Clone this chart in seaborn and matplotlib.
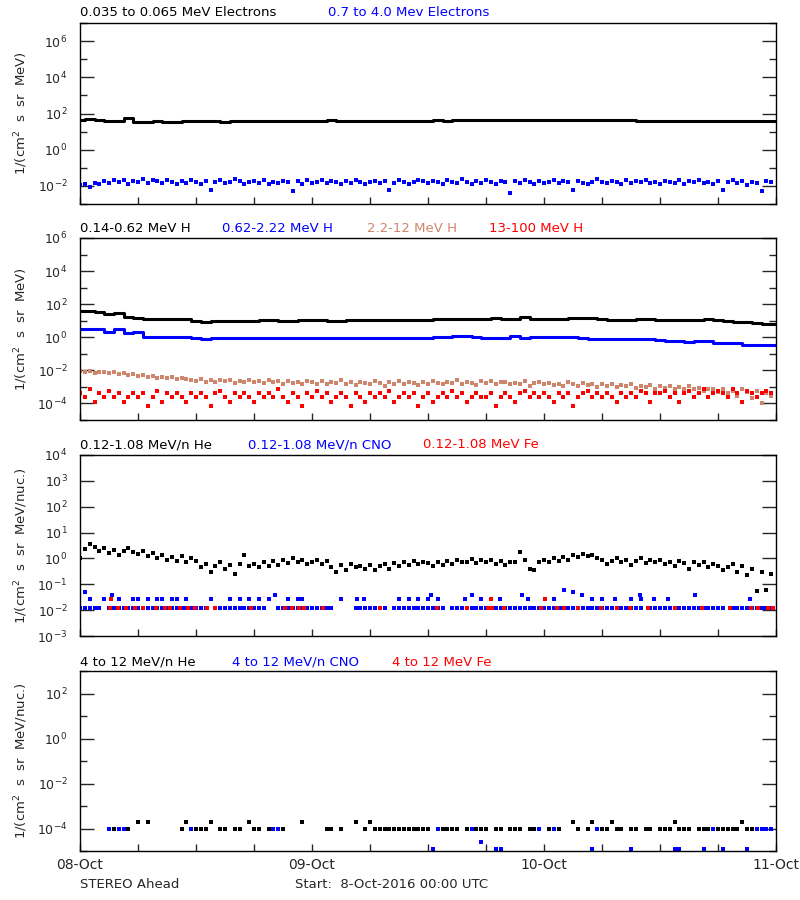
import numpy as np
import matplotlib
matplotlib.use('Agg')
import matplotlib.pyplot as plt
import matplotlib.ticker as ticker
import seaborn as sns

# STEREO Ahead particle fluxes, 8-Oct-2016 00:00 UTC + 72 h
N = None
L = 0.0123  # single-count level, 0.12-1.08 MeV/n CNO / Fe
A = 1e-4    # single-count level, 4-12 MeV/n
B = 1.9e-4
C = 1.2e-5
D = 2.5e-5

days = ['08-Oct', '09-Oct', '10-Oct', '11-Oct']
t_hour = np.arange(73)          # hourly grid for the smooth channels
t_half = np.arange(144) * 0.5   # half-hour grid for the noisy channels

# panel 1: electrons
e_low = [46, 48, 44, 40, 38, 60, 36, 35, 37, 34, 36, 38,
         37, 38, 40, 36, 40, 41, 40, 40, 39, 40, 41, 40,
         40, 41, 42, 40, 41, 41, 40, 39, 40, 40, 41, 40,
         41, 42, 41, 42, 43, 44, 44, 43, 45, 46, 45, 44,
         45, 46, 45, 44, 45, 44, 43, 42, 43, 42, 41, 40,
         41, 40, 40, 39, 40, 39, 40, 41, 40, 39, 40, 40, 41]
e_high = [0.011, 0.013, 0.009, 0.015, 0.012, 0.018, 0.014, 0.020, 0.016, 0.022, 0.013, 0.019,
          0.017, 0.024, 0.015, 0.021, 0.018, 0.014, 0.020, 0.016, 0.012, 0.019, 0.015, 0.022,
          0.017, 0.013, 0.018, 0.006, 0.016, 0.020, 0.014, 0.017, 0.024, 0.018, 0.013, 0.016,
          0.019, 0.015, 0.021, 0.012, 0.017, 0.014, 0.019, 0.016, 0.005, 0.018, 0.013, 0.020,
          0.015, 0.017, 0.022, 0.014, 0.018, 0.016, 0.012, 0.019, 0.015, 0.021, 0.017, 0.013,
          0.016, 0.019, 0.014, 0.018, 0.006, 0.015, 0.020, 0.017, 0.013, 0.016, 0.022, 0.018,
          0.014, 0.019, 0.016, 0.012, 0.020, 0.017, 0.015, 0.023, 0.016, 0.013, 0.018, 0.015,
          0.021, 0.017, 0.012, 0.019, 0.016, 0.004, 0.018, 0.014, 0.020, 0.016, 0.013, 0.019,
          0.015, 0.017, 0.021, 0.014, 0.018, 0.016, 0.006, 0.019, 0.015, 0.012, 0.017, 0.025,
          0.016, 0.014, 0.019, 0.017, 0.013, 0.020, 0.015, 0.018, 0.016, 0.022, 0.014, 0.017,
          0.012, 0.019, 0.016, 0.015, 0.020, 0.013, 0.018, 0.016, 0.021, 0.014, 0.017, 0.012,
          0.019, 0.006, 0.016, 0.020, 0.014, 0.018, 0.011, 0.017, 0.015, 0.005, 0.019, 0.016]

# panel 2: protons
h_014 = [39, 37, 35, 24, 31, 17, 15, 12.5, 12.5, 12.5, 12, 12,
         9, 8.5, 9.5, 10, 10, 10, 10, 10.5, 10.5, 10, 10, 10.5,
         10.5, 10.5, 10, 10, 10.5, 10.5, 10.5, 11, 11, 11, 11, 11,
         11.5, 12, 12, 12.5, 13, 13, 13.5, 14, 13, 13.5, 18, 13,
         13, 13, 13.5, 14, 14, 14, 12, 11.5, 11.5, 11.5, 12, 12,
         11.5, 11, 11, 11, 11.5, 12.5, 11, 9, 8.5, 8, 7, 6.5, 6.5]
h_062 = [3.2, 3.2, 3.0, 2.2, 3.0, 1.7, 2.0, 1.05, 1.0, 1.05, 1.0, 1.0,
         0.85, 0.82, 0.85, 0.85, 0.87, 0.88, 0.87, 0.88, 0.88, 0.87, 0.88, 0.9,
         0.9, 0.9, 0.88, 0.88, 0.9, 0.88, 0.88, 0.9, 0.9, 0.9, 0.92, 0.95,
         0.95, 1.0, 1.1, 1.15, 1.15, 1.1, 0.95, 0.92, 0.95, 1.15, 0.9, 1.0,
         1.0, 1.0, 1.02, 1.0, 0.95, 0.78, 0.77, 0.76, 0.76, 0.75, 0.75, 0.74,
         0.7, 0.58, 0.56, 0.55, 0.56, 0.6, 0.47, 0.45, 0.45, 0.35, 0.33, 0.32, 0.32]
h_22 = [0.0095, 0.008, 0.009, 0.0072, 0.0085, 0.0078, 0.0065, 0.0082, 0.0058, 0.007, 0.0052, 0.006,
        0.0045, 0.0052, 0.004, 0.0048, 0.0036, 0.0042, 0.0033, 0.0038, 0.0029, 0.0035, 0.0031, 0.0027,
        0.0024, 0.003, 0.0021, 0.0026, 0.0019, 0.0028, 0.0022, 0.0025, 0.0018, 0.0024, 0.0021, 0.0027,
        0.002, 0.0023, 0.0017, 0.0025, 0.0019, 0.0022, 0.0016, 0.0024, 0.0018, 0.0021, 0.0015, 0.0023,
        0.0019, 0.0016, 0.0022, 0.0014, 0.002, 0.0017, 0.0025, 0.0015, 0.0019, 0.0013, 0.0021, 0.0017,
        0.0015, 0.0022, 0.0018, 0.0012, 0.002, 0.0016, 0.0024, 0.0014, 0.0019, 0.0017, 0.0013, 0.0021,
        0.0016, 0.0023, 0.0018, 0.0014, 0.0021, 0.0017, 0.0026, 0.0015, 0.002, 0.0018, 0.0013, 0.0022,
        0.0017, 0.0024, 0.0015, 0.0019, 0.0021, 0.0014, 0.0018, 0.0016, 0.0022, 0.0012, 0.0017, 0.002,
        0.0014, 0.0018, 0.0013, 0.0016, 0.0011, 0.0019, 0.0015, 0.0012, 0.0017, 0.0013, 0.0016, 0.001,
        0.0014, 0.0012, 0.0016, 0.001, 0.0013, 0.0011, 0.0015, 0.0009, 0.0012, 0.001, 0.0013, 0.0008,
        0.0011, 0.0009, 0.0012, 0.0008, 0.001, 0.0007, 0.0011, 0.0008, 0.0009, 0.0006, 0.0008, 0.0007,
        0.0005, 0.0008, 0.0004, 0.0006, 0.0003, 0.0007, 0.0005, 0.0002, 0.0006, 0.0001, 0.0004, 0.0003]
h_13 = [4e-4, 2.5e-4, 7e-4, 1.3e-4, 4e-4, 2.5e-4, 5.5e-4, 2.5e-4, 4e-4, 1.3e-4, 2.5e-4, 4e-4,
        2.5e-4, 4e-4, 7e-5, 2.5e-4, 5.5e-4, 1.3e-4, 4e-4, 2.5e-4, 4e-4, 2.5e-4, 1.3e-4, 4e-4,
        2.5e-4, 4e-4, 2.5e-4, 7e-5, 4e-4, 5.5e-4, 2.5e-4, 1.3e-4, 4e-4, 2.5e-4, 4e-4, 2.5e-4,
        1.3e-4, 4e-4, 2.5e-4, 4e-4, 2.5e-4, 7e-4, 2.5e-4, 1.3e-4, 4e-4, 2.5e-4, 7e-5, 4e-4,
        2.5e-4, 5.5e-4, 2.5e-4, 4e-4, 1.3e-4, 2.5e-4, 4e-4, 2.5e-4, 7e-5, 4e-4, 2.5e-4, 1.3e-4,
        4e-4, 2.5e-4, 4e-4, 2.5e-4, 5.5e-4, 1.3e-4, 2.5e-4, 4e-4, 2.5e-4, 4e-4, 7e-5, 2.5e-4,
        4e-4, 1.3e-4, 2.5e-4, 4e-4, 2.5e-4, 5.5e-4, 2.5e-4, 4e-4, 1.3e-4, 2.5e-4, 4e-4, 2.5e-4,
        2.5e-4, 4e-4, 7e-5, 2.5e-4, 4e-4, 2.5e-4, 1.3e-4, 4e-4, 5.5e-4, 2.5e-4, 4e-4, 2.5e-4,
        4e-4, 2.5e-4, 1.3e-4, 4e-4, 2.5e-4, 4e-4, 7e-5, 2.5e-4, 4e-4, 5.5e-4, 2.5e-4, 4e-4,
        2.5e-4, 4e-4, 2.5e-4, 1.3e-4, 4e-4, 2.5e-4, 4e-4, 2.5e-4, 5.5e-4, 4e-4, 1.3e-4, 4e-4,
        4e-4, 5.5e-4, 2.5e-4, 4e-4, 1.3e-4, 4e-4, 5.5e-4, 2.5e-4, 4e-4, 7e-4, 2.5e-4, 4e-4,
        5.5e-4, 4e-4, 2.5e-4, 7e-4, 4e-4, 1.3e-4, 5.5e-4, 4e-4, 2.5e-4, 4e-4, 5.5e-4, 4e-4]

# panel 3: 0.12-1.08 MeV/n heavy ions
he_low = [1.0, 2.4, 3.6, 2.8, 1.9, 2.5, 1.6, 2.2, 1.4, 2.0, 2.6, 1.7,
          1.5, 1.9, 1.2, 1.6, 1.0, 1.3, 0.9, 1.1, 0.8, 1.2, 0.7, 1.0,
          0.8, 0.45, 0.6, 0.3, 0.5, 0.7, 0.4, 0.55, 0.25, 0.6, 1.3, 0.5,
          0.6, 0.45, 0.75, 0.5, 0.8, 0.55, 0.9, 0.65, 1.0, 0.7, 0.85, 0.6,
          0.75, 0.9, 0.6, 0.8, 0.45, 0.3, 0.55, 0.35, 0.6, 0.45, 0.5, 0.4,
          0.55, 0.35, 0.5, 0.6, 0.4, 0.65, 0.5, 0.75, 0.55, 0.8, 0.6, 0.7,
          0.65, 0.5, 0.7, 0.55, 0.8, 0.6, 0.9, 0.7, 0.75, 0.95, 0.65, 0.85,
          0.7, 0.9, 0.6, 0.8, 0.55, 0.75, 0.7, 1.8, 0.9, 0.4, 0.35, 0.7,
          0.85, 0.7, 1.0, 0.8, 1.1, 0.9, 1.3, 1.1, 1.5, 1.2, 1.4, 1.0,
          0.9, 0.6, 0.8, 1.0, 0.7, 0.9, 0.55, 0.8, 1.0, 0.65, 0.85, 0.7,
          0.9, 0.6, 0.75, 0.5, 0.8, 0.65, 0.4, 0.7, 0.55, 0.75, 0.45, 0.6,
          0.5, 0.35, 0.45, 0.6, 0.3, 0.5, 0.22, 0.4, 0.055, 0.3, 0.06, 0.25]
cno_low = [L, L, L, L, L, N, L, L, L, L, L, L,
           L, L, L, L, L, L, L, L, L, L, L, L,
           L, L, L, N, L, L, L, L, L, L, L, L,
           L, L, L, N, N, L, L, L, L, L, L, L,
           L, L, L, L, L, N, N, N, N, L, L, L,
           L, L, L, L, N, L, L, L, L, L, L, L,
           L, L, L, L, N, L, L, L, L, L, L, L,
           L, L, L, L, L, L, L, L, L, L, L, L,
           L, L, L, L, L, L, L, L, L, L, L, L,
           L, L, L, L, L, L, L, L, L, N, L, L,
           L, L, L, L, L, L, L, L, L, L, L, L,
           L, L, N, L, L, L, L, L, L, L, L, L]
cno_up_t = [0.5, 1.0, 2.5, 3.3, 4.0, 5.5, 6.0, 7.0, 8.0, 8.5,
            9.5, 10.0, 11.0, 13.5, 15.5, 16.5, 17.5, 18.5, 19.5, 20.2,
            21.5, 22.5, 23.0, 27.0, 28.7, 29.4, 33.0, 34.0, 35.0, 36.0,
            36.3, 37.0, 39.8, 40.5, 41.5, 43.4, 45.7, 46.3, 49.0, 50.1,
            51.0, 51.9, 53.0, 54.0, 55.3, 57.0, 57.9, 58.0, 59.4, 60.8,
            63.6, 69.3]
cno_up_v = [0.05, 0.026, 0.026, 0.038, 0.026, 0.026, 0.026, 0.026, 0.026, 0.026,
            0.026, 0.026, 0.026, 0.026, 0.026, 0.026, 0.026, 0.026, 0.026, 0.038,
            0.026, 0.026, 0.026, 0.026, 0.026, 0.026, 0.026, 0.026, 0.026, 0.026,
            0.038, 0.026, 0.026, 0.038, 0.026, 0.026, 0.038, 0.026, 0.026, 0.06,
            0.05, 0.038, 0.026, 0.026, 0.026, 0.026, 0.038, 0.026, 0.026, 0.026,
            0.038, 0.026]
fe_t = [3.1, 3.9, 4.8, 5.7, 6.5, 7.9, 8.8, 9.3, 10.3, 11.2,
        11.9, 13.1, 14.0, 17.7, 21.2, 21.9, 22.7, 23.2, 25.1, 31.0,
        36.9, 40.0, 42.2, 42.6, 43.9, 47.7, 49.3, 50.1, 51.5, 53.9,
        55.5, 56.9, 58.8, 61.5, 64.3, 67.2, 69.4, 70.1, 71.2, 71.7,
        3.2, 42.5, 48.1]
fe_v = [L, L, L, L, L, L, L, L, L, L,
        L, L, L, L, L, L, L, L, L, L,
        L, L, L, L, L, L, L, L, L, L,
        L, L, L, L, L, L, L, L, L, L,
        0.026, 0.026, 0.026]

# panel 4: 4-12 MeV/n heavy ions
he_high = [N, N, N, N, N, N, A, A, N, A, A, N,
           B, N, B, N, N, N, N, N, N, A, B, A,
           A, A, A, B, N, A, A, N, A, A, N, B,
           A, A, N, A, A, N, A, N, N, N, B, N,
           N, N, N, A, A, N, A, N, N, B, N, A,
           B, A, A, A, A, A, A, A, A, A, A, A,
           A, N, N, A, A, A, A, N, A, A, A, A,
           A, N, A, A, N, A, A, A, N, A, A, A,
           N, A, N, A, N, N, B, A, N, A, B, A,
           A, A, B, A, A, N, A, A, N, A, A, N,
           A, A, A, B, A, A, A, N, A, A, A, A,
           A, A, A, A, A, B, A, A, N, N, N, N]
cno_high = [N, N, N, N, N, N, A, N, A, A, N, N,
            N, N, N, N, N, N, N, N, N, N, N, A,
            N, N, N, N, N, N, N, N, N, N, N, N,
            N, N, N, N, A, A, N, N, N, N, N, N,
            N, N, N, N, N, N, N, N, N, N, N, N,
            N, N, N, N, N, N, N, N, N, N, N, N,
            N, C, A, N, N, N, N, N, N, A, N, D,
            N, N, C, C, N, N, N, N, N, N, N, A,
            N, N, A, N, N, N, N, N, N, N, C, A,
            N, N, N, N, N, N, C, N, N, N, N, N,
            N, N, N, C, C, N, N, N, N, C, N, A,
            N, C, N, N, N, N, C, N, A, A, A, A]

BLUE = '#0000ff'
RED = '#ff0000'
BROWN = '#cd856b'

sns.set_style('ticks', {'xtick.direction': 'in', 'ytick.direction': 'in'})
plt.rcParams['font.family'] = ['DejaVu Sans']
plt.rcParams['axes.linewidth'] = 1.0

fig = plt.figure(figsize=(8, 9), dpi=100)
W, H = 800.0, 900.0


def make_axes(top, bottom):
    return fig.add_axes([80 / W, 1 - bottom / H, 696 / W, (bottom - top) / H])


def style(ax, ylo, yhi, major_base, ylabel, show_x=False):
    ax.set_yscale('log')
    ax.set_ylim(ylo, yhi)
    ax.set_xlim(0, 72)
    ax.yaxis.set_major_locator(ticker.LogLocator(base=major_base, numticks=30))
    ax.yaxis.set_minor_locator(ticker.LogLocator(base=10, subs=(1.0,), numticks=30))
    ax.yaxis.set_major_formatter(ticker.LogFormatterMathtext())
    ax.yaxis.set_minor_formatter(ticker.NullFormatter())
    ax.set_xticks([0, 24, 48, 72])
    ax.xaxis.set_minor_locator(ticker.MultipleLocator(6))
    ax.set_xticklabels(days if show_x else [])
    ax.tick_params(axis='y', which='both', direction='in', left=True, right=True,
                   labelsize=9, pad=9, width=1)
    ax.tick_params(axis='y', which='major', length=10)
    ax.tick_params(axis='y', which='minor', length=5)
    ax.tick_params(axis='x', which='both', direction='in', bottom=True, top=False,
                   length=5, width=1, labelsize=10, pad=5)
    ax.set_xlabel('')
    ax.set_ylabel(ylabel, fontsize=9.5)
    ax.yaxis.set_label_coords(-0.072, 0.5)
    for s in ax.spines.values():
        s.set_visible(True)
        s.set_color('black')


def dots(ax, x, y, color, size=6):
    sns.scatterplot(x=np.asarray(x, dtype=float), y=np.asarray(y, dtype=float), ax=ax,
                    color=color, marker='s', s=size, linewidth=0, legend=False)


def line(ax, x, y, color):
    sns.lineplot(x=np.asarray(x, dtype=float), y=np.asarray(y, dtype=float), ax=ax,
                 color=color, linewidth=2.2, drawstyle='steps-mid',
                 estimator=None, sort=False, legend=False)


def titles(y_px, parts):
    for x_px, txt, col in parts:
        fig.text(x_px / W, 1 - y_px / H, txt, color=col, fontsize=9.5,
                 ha='left', va='center')


lab_mev = '1/(cm$^2$  s  sr  MeV)'
lab_nuc = '1/(cm$^2$  s  sr  MeV/nuc.)'

# panel 1
ax1 = make_axes(23, 204)
line(ax1, t_hour, e_low, 'black')
dots(ax1, t_half, e_high, BLUE)
style(ax1, 1e-3, 1e7, 100, lab_mev)
titles(13, [(80, '0.035 to 0.065 MeV Electrons', 'black'),
            (328, '0.7 to 4.0 Mev Electrons', BLUE)])

# panel 2
ax2 = make_axes(238, 420)
dots(ax2, t_half, h_22, BROWN)
dots(ax2, t_half, h_13, RED)
line(ax2, t_hour, h_014, 'black')
line(ax2, t_hour, h_062, BLUE)
style(ax2, 1e-5, 1e6, 100, lab_mev)
titles(229, [(80, '0.14-0.62 MeV H', 'black'),
             (222, '0.62-2.22 MeV H', BLUE),
             (367, '2.2-12 MeV H', BROWN),
             (489, '13-100 MeV H', RED)])

# panel 3
ax3 = make_axes(455, 636)
dots(ax3, t_half, he_low, 'black')
dots(ax3, t_half, cno_low, BLUE)
dots(ax3, cno_up_t, cno_up_v, BLUE)
dots(ax3, fe_t, fe_v, RED)
style(ax3, 1e-3, 1e4, 10, lab_nuc)
titles(445, [(80, '0.12-1.08 MeV/n He', 'black'),
             (248, '0.12-1.08 MeV/n CNO', BLUE),
             (423, '0.12-1.08 MeV Fe', RED)])

# panel 4
ax4 = make_axes(671, 851)
dots(ax4, t_half, he_high, 'black')
dots(ax4, t_half, cno_high, BLUE)
style(ax4, 1e-5, 1e3, 100, lab_nuc, show_x=True)
titles(662, [(80, '4 to 12 MeV/n He', 'black'),
             (232, '4 to 12 MeV/n CNO', BLUE),
             (392, '4 to 12 MeV Fe', RED)])

fig.text(80 / W, 1 - 884 / H, 'STEREO Ahead', fontsize=9.5, ha='left', va='center')
fig.text(295 / W, 1 - 884 / H, 'Start:  8-Oct-2016 00:00 UTC', fontsize=9.5,
         ha='left', va='center')

fig.savefig('out.png', dpi=100, facecolor='white')
